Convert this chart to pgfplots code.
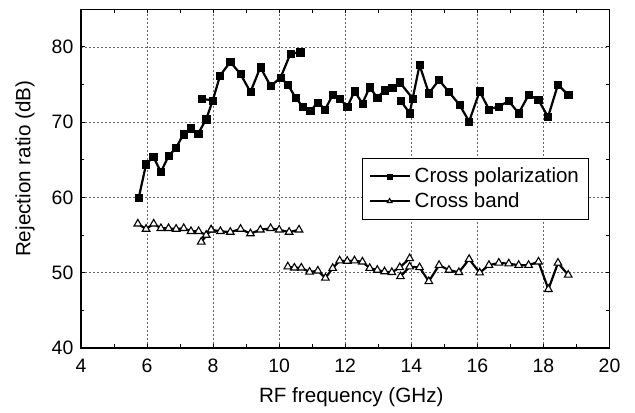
\documentclass[border=0pt]{standalone}
\usepackage{fontspec}
\setmainfont{Liberation Sans}
\usepackage{pgfplots}
\pgfplotsset{compat=1.18}
\begin{document}
\fontsize{19.5}{23}\selectfont
\begin{tikzpicture}
\begin{axis}[name=ax, scale only axis, width=528.5bp, height=338.7bp,
  xmin=4, xmax=20, ymin=40, ymax=85,
  xtick={4,6,...,20}, ytick={40,50,...,80},
  minor xtick={5,7,...,19}, minor ytick={45,55,65,75},
  tick align=inside, tick pos=both,
  major tick length=4bp, minor tick length=3.5bp,
  every tick/.style={black, line width=1bp},
  axis line style={line width=1.3bp},
  grid=major,
  major grid style={dash pattern=on 2bp off 2bp, black!60, line width=0.8bp},
  /pgf/number format/assume math mode=true,
  every tick label/.append style={font=\fontsize{19.5}{23}\selectfont},
  xticklabel style={yshift=-4bp},
  yticklabel style={xshift=-1bp},
  xlabel={RF frequency (GHz)},
  ylabel={Rejection ratio (dB)},
  every axis label/.append style={font=\fontsize{20.7}{24}\selectfont},
  xlabel style={at={(axis description cs:0.5,0)}, anchor=base, xshift=6bp, yshift=-55bp},
  ylabel style={at={(axis description cs:0,0.5)}, anchor=center, xshift=10bp, yshift=56bp},
  cp/.style={black, line width=2.2bp, mark=square*, mark size=3.6bp, mark options={solid, line width=0.5bp}},
  cb/.style={black, line width=2.2bp, mark=triangle*, mark size=4.4bp, mark options={solid, fill=white, line width=1.1bp}},
  legend image code/.code={\draw[mark repeat=2, mark phase=2, #1, mark size=2.6bp] plot coordinates {(0bp,0bp)(20bp,0bp)(40bp,0bp)};},
  legend style={at={(0.5317,0.561)}, anchor=north west, draw=black, line width=1bp,
    font=\fontsize{20.6}{24}\selectfont, inner xsep=6bp, inner ysep=5.5bp,
    nodes={inner xsep=4bp, inner ysep=3.5bp}},
  legend cell align=left,
]
% Cross polarization, band 1-2
\addplot[cp] coordinates {
(5.75,60.0) (5.97,64.4) (6.19,65.4) (6.42,63.4) (6.65,65.5) (6.88,66.6)
(7.10,68.4) (7.33,69.2) (7.55,68.5) (7.79,70.4) (7.99,72.9) (8.21,76.2)
(8.52,78.0) (8.83,76.4) (9.13,74.0) (9.43,77.3) (9.74,74.8) (10.04,75.9)
(10.34,79.1) (10.64,79.3)};
\addlegendentry{Cross polarization}
% Cross band, band 1-2
\addplot[cb] coordinates {
(5.72,56.5) (5.97,55.8) (6.20,56.5) (6.42,55.9) (6.65,55.9) (6.88,55.8)
(7.11,55.9) (7.33,55.5) (7.56,55.5) (7.79,55.0) (7.94,55.7) (8.22,55.5)
(8.52,55.4) (8.83,55.8) (9.13,55.2) (9.43,55.7) (9.74,55.9) (10.00,55.7)
(10.30,55.4) (10.60,55.7)};
\addlegendentry{Cross band}
% extra segments
\addplot[cp, forget plot] coordinates {(7.65,73.1) (7.99,72.9)};
\addplot[cb, forget plot] coordinates {(7.64,54.1) (7.94,55.7)};
% Cross polarization, band 3
\addplot[cp, forget plot] coordinates {
(10.04,75.9) (10.26,75.0) (10.49,73.3) (10.72,72.0) (10.94,71.5) (11.17,72.6)
(11.39,71.7) (11.62,73.6) (11.84,73.15) (12.06,72.0) (12.28,74.1) (12.52,72.5)
(12.74,74.65) (12.97,73.25) (13.19,74.25) (13.42,74.55) (13.65,75.3) (14.05,73.1)};
% Cross polarization, band 4
\addplot[cp, forget plot] coordinates {
(13.67,72.9) (13.95,71.2) (14.25,77.6) (14.53,73.85) (14.84,75.6) (15.14,74.0)
(15.46,72.3) (15.75,70.1) (16.07,74.1) (16.35,71.7) (16.65,72.1) (16.95,72.8)
(17.25,71.2) (17.55,73.6) (17.84,73.0) (18.14,70.7) (18.44,75.0) (18.75,73.6)};
% Cross band, band 3
\addplot[cb, forget plot] coordinates {
(10.26,50.8) (10.46,50.65) (10.67,50.65) (10.92,50.1) (11.17,50.25) (11.40,49.3)
(11.62,50.6) (11.83,51.6) (12.06,51.55) (12.28,51.6) (12.52,51.45) (12.74,50.6)
(12.97,50.35) (13.19,50.15) (13.41,50.05) (13.65,50.7) (13.95,51.9)};
% Cross band, band 4
\addplot[cb, forget plot] coordinates {
(13.67,49.5) (13.95,50.8) (14.25,50.7) (14.53,48.85) (14.84,51.0) (15.14,50.35)
(15.44,50.05) (15.75,51.8) (16.07,50.0) (16.35,51.0) (16.65,51.3) (16.95,51.2)
(17.25,51.0) (17.55,51.0) (17.85,51.45) (18.15,47.8) (18.44,51.3) (18.75,49.7)};
\end{axis}
\pgfresetboundingbox
\path ([shift={(-81bp,-65bp)}]ax.south west) rectangle ([shift={(25.5bp,9.3bp)}]ax.north east);
\end{tikzpicture}
\end{document}
